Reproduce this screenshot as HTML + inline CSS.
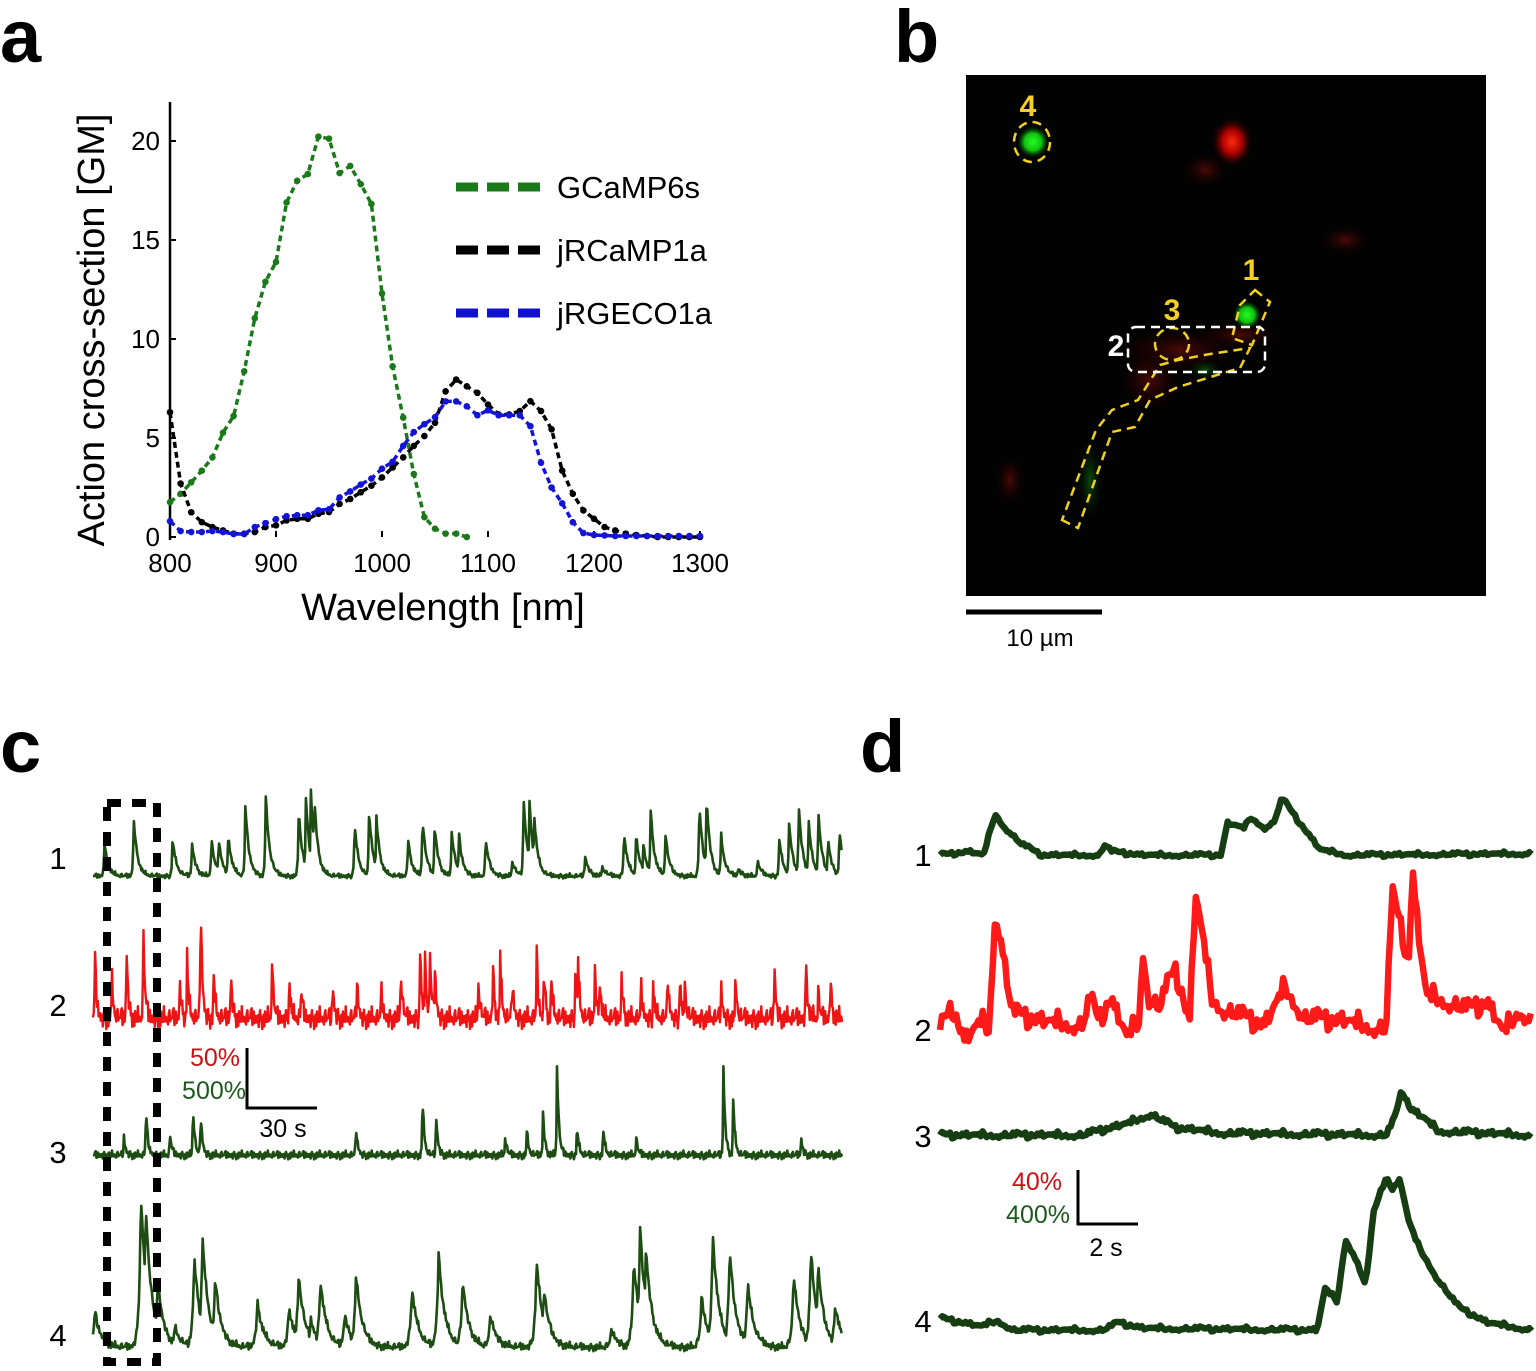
<!DOCTYPE html>
<html><head><meta charset="utf-8"><style>
html,body{margin:0;padding:0;background:#fff;}
svg{display:block;font-family:"Liberation Sans",Arial,sans-serif;}
</style></head><body>
<svg id="fig" width="1536" height="1371" viewBox="0 0 1536 1371" xmlns="http://www.w3.org/2000/svg">
<defs>
<radialGradient id="gG"><stop offset="0" stop-color="#22ff22"/><stop offset="0.55" stop-color="#10c010"/><stop offset="1" stop-color="#003300" stop-opacity="0"/></radialGradient>
<radialGradient id="gR"><stop offset="0" stop-color="#ff2a10"/><stop offset="0.5" stop-color="#a00"/><stop offset="1" stop-color="#300" stop-opacity="0"/></radialGradient>
<radialGradient id="gDR"><stop offset="0" stop-color="#4a0a06"/><stop offset="1" stop-color="#1a0000" stop-opacity="0"/></radialGradient>
<radialGradient id="gDG"><stop offset="0" stop-color="#0c4a0c"/><stop offset="1" stop-color="#001a00" stop-opacity="0"/></radialGradient>
</defs>
<text x="0" y="62" font-size="74" font-weight="bold">a</text>
<text x="894" y="62" font-size="74" font-weight="bold">b</text>
<text x="0" y="772" font-size="74" font-weight="bold">c</text>
<text x="860" y="772" font-size="74" font-weight="bold">d</text>

<g id="panelA">
<line x1="170" y1="102" x2="170" y2="540" stroke="#000" stroke-width="2.5"/>
<text transform="translate(104,330) rotate(-90)" text-anchor="middle" font-size="38">Action cross-section [GM]</text>
<text x="443" y="620" text-anchor="middle" font-size="38">Wavelength [nm]</text>
<g id="aTicks"></g>
<g id="aCurves"></g>
<g>
<line x1="456" y1="187" x2="540" y2="187" stroke="#1a7a1a" stroke-width="9" stroke-dasharray="22,9"/>
<text x="557" y="198" font-size="31">GCaMP6s</text>
<line x1="456" y1="250" x2="540" y2="250" stroke="#000" stroke-width="9" stroke-dasharray="22,9"/>
<text x="557" y="261" font-size="31">jRCaMP1a</text>
<line x1="456" y1="313" x2="540" y2="313" stroke="#1010d0" stroke-width="9" stroke-dasharray="22,9"/>
<text x="557" y="324" font-size="31">jRGECO1a</text>
</g>
</g>

<g>
<rect x="966" y="75" width="520" height="521" fill="#020202"/>
<ellipse cx="1232" cy="142" rx="20" ry="24" fill="url(#gR)"/>
<ellipse cx="1205" cy="170" rx="22" ry="16" fill="url(#gDR)"/>
<ellipse cx="1180" cy="350" rx="60" ry="22" fill="url(#gDR)"/>
<ellipse cx="1240" cy="335" rx="40" ry="14" fill="url(#gDR)"/>
<ellipse cx="1150" cy="380" rx="30" ry="30" fill="url(#gDR)"/>
<ellipse cx="1010" cy="480" rx="14" ry="24" fill="url(#gDR)"/>
<ellipse cx="1345" cy="240" rx="24" ry="14" fill="url(#gDR)"/>
<ellipse cx="1033" cy="142" rx="16" ry="16" fill="url(#gG)"/>
<ellipse cx="1247" cy="315" rx="14" ry="14" fill="url(#gG)"/>
<ellipse cx="1205" cy="370" rx="18" ry="10" fill="url(#gDG)"/>
<ellipse cx="1090" cy="480" rx="12" ry="40" fill="url(#gDG)"/>
<g fill="none" stroke="#f0d020" stroke-width="2.5" stroke-dasharray="9,6">
<ellipse cx="1032" cy="142" rx="18" ry="20"/>
<polygon points="1255,290 1270,302 1252,345 1232,338 1240,305"/>
<ellipse cx="1172" cy="344" rx="17" ry="16"/>
<polygon points="1062,520 1078,528 1112,432 1135,427 1150,400 1178,387 1240,368 1250,348 1210,354 1178,360 1160,365 1138,400 1125,405 1112,410 1096,430"/>
</g>
<rect x="1128" y="327" width="137" height="45" rx="8" fill="none" stroke="#fff" stroke-width="2.5" stroke-dasharray="9,6"/>
<text x="1028" y="116" text-anchor="middle" font-size="30" font-weight="bold" fill="#f5d020">4</text>
<text x="1251" y="280" text-anchor="middle" font-size="30" font-weight="bold" fill="#f5d020">1</text>
<text x="1172" y="320" text-anchor="middle" font-size="30" font-weight="bold" fill="#f5d020">3</text>
<text x="1116" y="356" text-anchor="middle" font-size="30" font-weight="bold" fill="#fff">2</text>
<line x1="966" y1="612" x2="1102" y2="612" stroke="#000" stroke-width="5"/>
<text x="1040" y="646" text-anchor="middle" font-size="24">10 µm</text>
</g>

<g>
<g id="cTraces"></g>
<rect x="107" y="803" width="50" height="559" fill="none" stroke="#000" stroke-width="8" stroke-dasharray="14,11"/>
<text x="58" y="869" text-anchor="middle" font-size="31">1</text>
<text x="58" y="1016" text-anchor="middle" font-size="31">2</text>
<text x="58" y="1163" text-anchor="middle" font-size="31">3</text>
<text x="58" y="1346" text-anchor="middle" font-size="31">4</text>
<path d="M247,1048 V1108 H317" fill="none" stroke="#000" stroke-width="3"/>
<text x="240" y="1066" text-anchor="end" font-size="25" fill="#d01010">50%</text>
<text x="246" y="1099" text-anchor="end" font-size="25" fill="#1e5a1e">500%</text>
<text x="283" y="1137" text-anchor="middle" font-size="25">30 s</text>
</g>

<g>
<g id="dTraces"></g>
<text x="923" y="866" text-anchor="middle" font-size="31">1</text>
<text x="923" y="1041" text-anchor="middle" font-size="31">2</text>
<text x="923" y="1147" text-anchor="middle" font-size="31">3</text>
<text x="923" y="1332" text-anchor="middle" font-size="31">4</text>
<path d="M1078,1170 V1224 H1138" fill="none" stroke="#000" stroke-width="3"/>
<text x="1062" y="1190" text-anchor="end" font-size="25" fill="#d01010">40%</text>
<text x="1070" y="1223" text-anchor="end" font-size="25" fill="#1e5a1e">400%</text>
<text x="1106" y="1256" text-anchor="middle" font-size="25">2 s</text>
</g>
</svg>
<script>
const aXTicks=[800,900,1000,1100,1200,1300];
const aYTicks=[0,5,10,15,20];
const gcampWl=[800,810,820,830,840,850,860,870,880,890,900,910,920,930,940,950,960,970,980,990,1000,1010,1020,1030,1040,1050,1060,1070,1080];
const gcampVal=[1.76,2.18,2.76,3.35,4.02,5.27,6.11,8.37,11.05,12.89,13.89,16.9,17.99,18.33,20.22,20.12,18.38,18.74,17.82,16.82,12.3,8.62,6.03,3.18,1.0,0.42,0.17,0.17,0];
const rcampWl=[800,810,820,830,840,850,860,870,880,890,900,910,920,930,940,950,960,970,980,990,1000,1010,1020,1030,1040,1050,1060,1070,1080,1090,1100,1110,1120,1130,1140,1150,1160,1170,1180,1190,1200,1210,1220,1230,1240,1250,1260,1270,1280,1290,1300];
const rcampVal=[6.3,2.7,1.25,0.75,0.5,0.33,0.17,0.17,0.25,0.5,0.59,0.84,0.92,0.92,1.17,1.26,1.67,1.92,2.26,2.59,3.01,3.51,4.02,4.6,5.1,5.77,7.36,7.95,7.61,7.28,6.69,6.19,6.19,6.36,6.86,6.36,5.44,3.35,2.18,1.34,0.92,0.5,0.33,0.17,0.1,0.05,0,0,0,0,0];
const rgecoWl=rcampWl;
const rgecoVal=[0.8,0.3,0.25,0.25,0.3,0.25,0.15,0.15,0.5,0.7,0.9,1.05,1.1,1.1,1.35,1.4,2.0,2.3,2.65,2.95,3.45,3.8,4.6,5.3,5.7,6.05,6.85,6.85,6.6,6.15,6.4,6.15,6.15,6.15,5.6,3.75,2.5,1.7,0.75,0.2,0.1,0.08,0.05,0.05,0.05,0.05,0.05,0.05,0.05,0.05,0.05];

const c1Times=[4.9,17.4,34,42.3,50.6,53.7,57.8,65.1,73.8,87.9,91,93.1,94.6,111.8,118,121.1,134.6,140.8,146,153.3,156.4,167.8,179.2,184,186.5,188.5,210.3,217.6,226.9,232.1,235.2,238.3,244.6,259.1,262.2,268.4,275.7,284,293.3,297.5,301.6,305.8,310,314.1,319];
const c1Amps=[275,483,317,275,308,317,350,583,692,567,650,708,667,442,558,500,317,483,433,375,350,317,125,667,642,525,167,83,375,350,267,558,358,608,667,350,67,125,308,442,600,475,525,317,392];
const c2Times=[0.8,8,14.3,21.5,37.1,40.2,46,51.6,58.9,76.5,83.8,88.9,102.4,112.8,123.2,131.5,139.8,141.9,144,146,164.7,170.9,174,179.2,189.6,192.7,195.8,206.2,207.2,214.5,216.5,225.9,234.2,239.4,245.6,250.8,252.9,268.4,274.6,291.2,304.7,309.9,315.1];
const c2Amps=[56,36,64,77,33,53,106,39,40,50,35,27,31,33,25,44,60,58,57,50,32,48,54,35,54,46,39,56,56,43,40,36,29,28,38,33,33,29,36,48,53,23,36];
const c3Times=[13.2,22.6,32.9,42.7,46,112.4,140.8,146.6,176.1,185.4,192.3,198.3,206.8,218,232.1,269.4,273.6,302.6];
const c3Amps=[150,392,183,417,358,233,500,350,150,208,358,750,250,233,150,733,475,150];
const c4Times=[0.8,20.5,22.6,27.7,35,43.3,46.8,52.2,70.3,83.8,87.9,93.1,97.2,107.6,112.4,136.3,147.7,158,169.9,189.6,192.7,221.7,231.1,233.8,236.3,260.1,264.9,272.1,279.8,299.5,306.8,309.9,317.2];
const c4Amps=[292,1275,1167,558,167,750,917,567,375,333,608,233,567,275,608,500,783,558,267,725,483,142,725,1000,833,417,942,808,542,600,808,683,358];
const NOISE=[0.3,-0.6,0.8,-0.2,-0.9,0.5,0.1,-0.4,0.7,-0.7,0.2,0.9,-0.3,-0.8,0.4,0.6,-0.5,0.0,-1.0,0.8,0.3,-0.2,0.5,-0.6,0.9,-0.4,0.1,-0.9,0.6,0.2,-0.7,0.4,-0.1,0.7,-0.3,-0.5,1.0];

const d1Times=[0,1,1.5,1.9,2.2,2.8,3.5,5.5,5.7,5.9,7,9.7,9.9,10.5,10.7,11.2,11.5,11.8,12.3,13.1,14,20.4];
const d1Vals=[0,25,0,290,200,80,0,0,80,25,0,0,225,190,265,190,225,400,255,40,0,10];
const d2Times=[0,0.43,0.85,1.41,1.69,1.9,2.11,2.32,2.53,3.5,4.9,5.18,5.46,5.88,6.44,6.86,7.0,7.2,7.56,7.84,8.1,8.4,8.6,8.81,9.09,9.37,9.79,11.19,11.89,12.58,13.98,15.38,15.59,15.94,16.15,16.29,16.5,16.77,17.19,18.17,18.87,19.43,19.99,20.4];
const d2Vals=[-3,13,-11,3,-3,78,61,29,8,3,0,19,3,19,-8,3,52,19,13,28,39,19,0,92,59,19,11,0,27,5,3,-3,92,66,40,108,64,21,19,11,16,-5,11,3];
const d3Times=[0,4.9,6.44,7.28,8.11,9.79,15.38,15.66,15.94,16.21,16.77,17.19,20.4];
const d3Vals=[0,0,80,147,53,13,0,107,320,187,107,27,0];
const d4Times=[0,0.1,1.41,1.97,2.53,5.6,6.16,7.0,13.0,13.28,13.7,13.98,14.26,14.68,14.96,15.38,15.59,15.87,16.15,16.5,17.19,17.89,18.87,20.4];
const d4Vals=[80,80,27,67,0,0,53,13,0,293,200,640,533,320,827,1080,987,1053,773,587,347,160,53,0];

const NS='http://www.w3.org/2000/svg';
function mk(tag,attrs,parent){const e=document.createElementNS(NS,tag);for(const k in attrs)e.setAttribute(k,attrs[k]);parent.appendChild(e);return e;}

const ax=w=>170+(w-800)*1.06;
const ay=v=>537-v*19.8;
const ticks=document.getElementById('aTicks');
aXTicks.forEach(w=>{
  const l=mk('line',{x1:ax(w),x2:ax(w),y1:537,y2:531,stroke:'#000','stroke-width':2},ticks);
  
  
  const t=mk('text',{x:ax(w),y:572,'text-anchor':'middle','font-size':26},ticks);
  t.textContent=w;
  
  
});
aYTicks.forEach(v=>{
  const l=mk('line',{x1:170,x2:176,y1:ay(v),y2:ay(v),stroke:'#000','stroke-width':2},ticks);
  
  
  const t=mk('text',{x:160,y:ay(v)+9,'text-anchor':'end','font-size':26},ticks);
  t.textContent=v;
  
  
});
const curves=document.getElementById('aCurves');
function curve(wl,val,col,name){
  const g=mk('g',{},curves);
  
  
  mk('polyline',{points:wl.map((w,i)=>ax(w)+','+ay(val[i])).join(' '),fill:'none',stroke:col,'stroke-width':3.5,'stroke-dasharray':'6,4'},g);
  wl.forEach((w,i)=>{mk('circle',{cx:ax(w),cy:ay(val[i]),r:3.3,fill:col},g);});
}
curve(gcampWl,gcampVal,'#1a7a1a','curve-gcamp6s');
curve(rcampWl,rcampVal,'#000','curve-jrcamp1a');
curve(rgecoWl,rgecoVal,'#1414d8','curve-jrgeco1a');

const cx=t=>93+t*2.34;
const noise=i=>(NOISE[i%37]+NOISE[(i*5+3)%37])*0.5;
const cG=document.getElementById('cTraces');
function cTrace(times,amps,base,pxPer,rise,decay,nAmp,col,name,step,sw){
  const pts=[];
  const n=Math.round(320/step);
  for(let i=0;i<=n;i++){
    const t=i*step;let v=0;
    for(let k=0;k<times.length;k++){const dt=t-times[k];const s=dt<0?Math.exp(dt/rise):Math.exp(-dt/decay);v=Math.max(v,amps[k]*s);}
    pts.push(cx(t).toFixed(1)+','+(base-v*pxPer+noise(i)*nAmp).toFixed(1));
  }
  const p=mk('polyline',{points:pts.join(' '),fill:'none',stroke:col,'stroke-width':sw,'stroke-linejoin':'round'},cG);
  
  
}
cTrace(c1Times,c1Amps,876,0.12,0.3,1.6,3,'#1d4d12','trace-c1',0.35,2.6);
cTrace(c2Times,c2Amps,1018,1.2,0.2,0.7,13,'#ee1414','trace-c2',0.3,2.4);
cTrace(c3Times,c3Amps,1155,0.12,0.2,0.8,5,'#1d4d12','trace-c3',0.3,2.6);
cTrace(c4Times,c4Amps,1347,0.12,0.8,2.6,5,'#1d4d12','trace-c4',0.35,2.6);

const dx=t=>940+t*29;
const dG=document.getElementById('dTraces');
function interp(ts,vs,t){for(let k=0;k<ts.length-1;k++){if(t<=ts[k+1]){const f=(t-ts[k])/(ts[k+1]-ts[k]);return vs[k]+f*(vs[k+1]-vs[k]);}}return vs[vs.length-1];}
function dTrace(ts,vs,base,pxPer,nAmp,col,name,step){
  const pts=[];
  const n=Math.round(20.4/step);
  for(let i=0;i<=n;i++){
    const t=i*step;
    pts.push(dx(t).toFixed(1)+','+(base-interp(ts,vs,t)*pxPer+noise(i*3+1)*nAmp).toFixed(1));
  }
  const p=mk('polyline',{points:pts.join(' '),fill:'none',stroke:col,'stroke-width':6.5,'stroke-linejoin':'round'},dG);
  
  
}
dTrace(d1Times,d1Vals,855,0.1425,2.5,'#163e12','trace-d1',0.08);
dTrace(d2Times,d2Vals,1025,1.425,13,'#ff1a1a','trace-d2',0.07);
dTrace(d3Times,d3Vals,1135,0.1425,4,'#163e12','trace-d3',0.07);
dTrace(d4Times,d4Vals,1330,0.1425,3,'#163e12','trace-d4',0.08);
</script>
</body></html>
